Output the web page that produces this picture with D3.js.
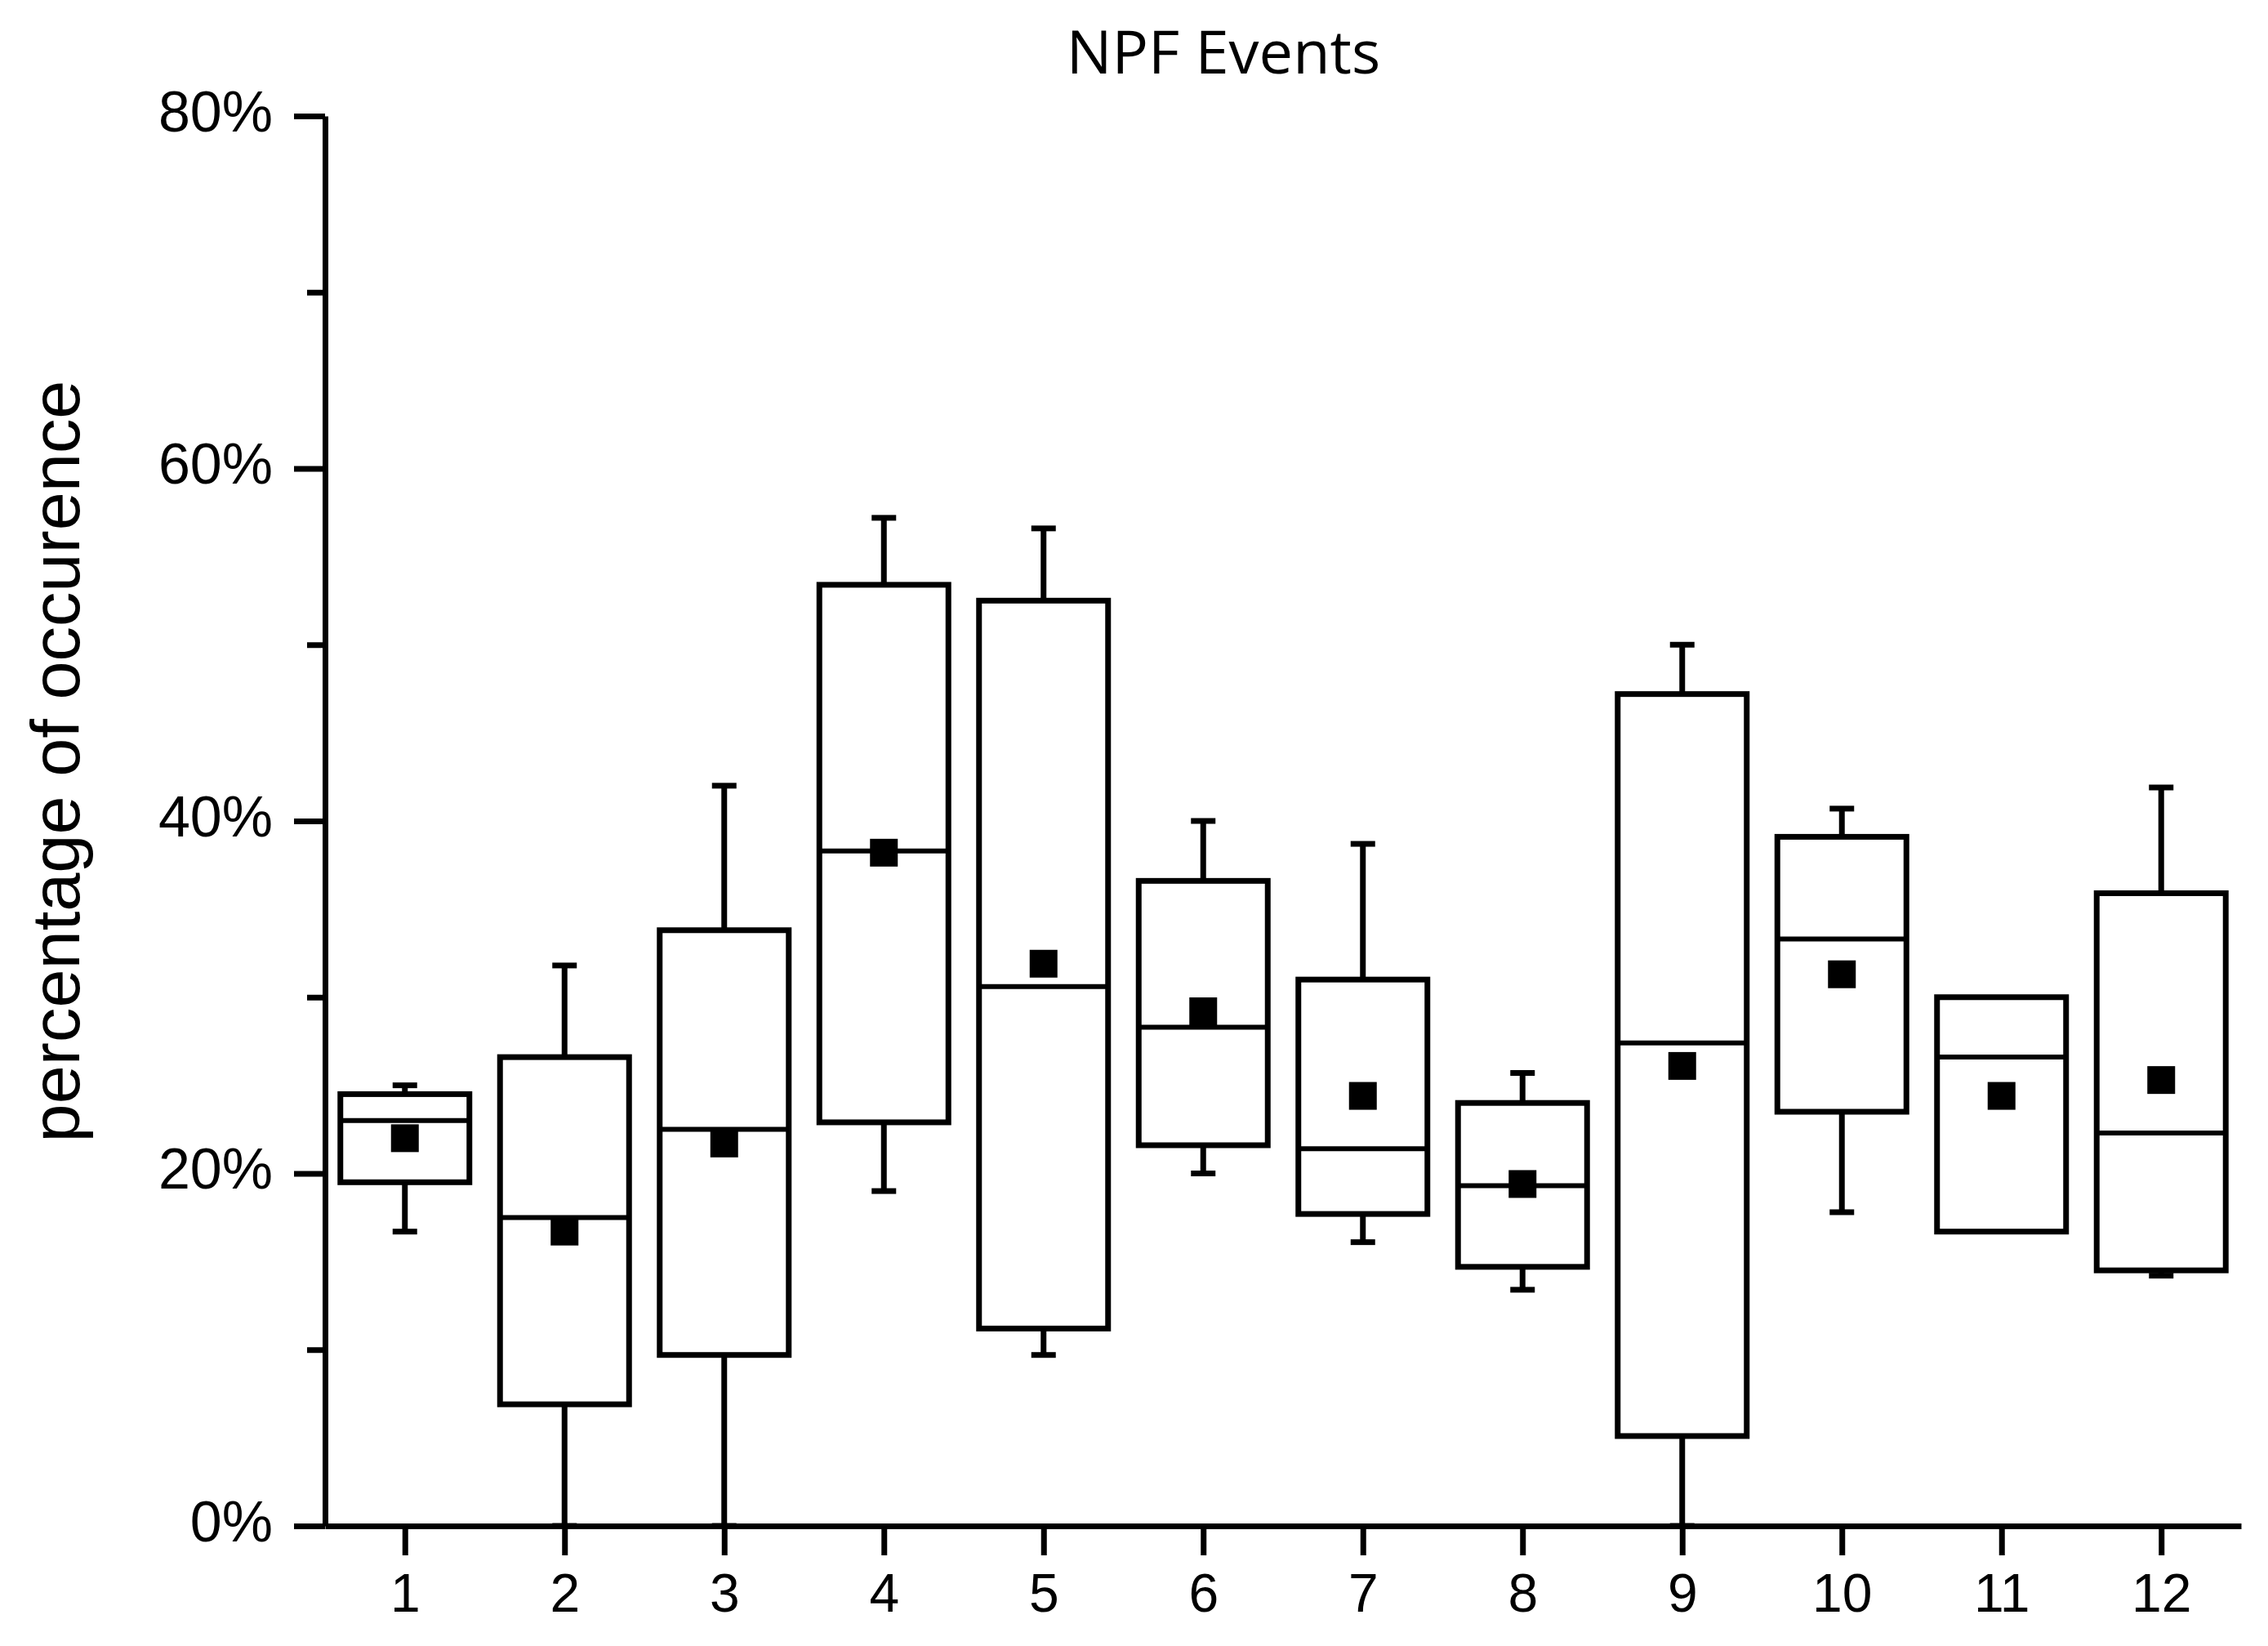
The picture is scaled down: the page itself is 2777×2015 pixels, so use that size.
<!DOCTYPE html>
<html>
<head>
<meta charset="utf-8">
<script src="https://cdn.jsdelivr.net/npm/d3@7"></script>
<style>
  html, body { margin: 0; padding: 0; background: #ffffff; }
  svg { display: block; }
</style>
</head>
<body>
<script>
// ---- Data (percent of occurrence, by month) ----
const months      = [1, 2, 3, 4, 5, 6, 7, 8, 9, 10, 11, 12];
const whiskerHigh = [25.0, 31.8, 42.0, 57.2, 56.6, 40.0, 38.7, 25.7, 50.0, 40.7, 30.0, 41.9];
const q3          = [24.5, 26.6, 33.8, 53.4, 52.5, 36.6, 31.0, 24.0, 47.2, 39.1, 30.0, 35.9];
const medians     = [23.0, 17.5, 22.5, 38.3, 30.6, 28.3, 21.4, 19.3, 27.4, 33.3, 26.6, 22.3];
const means       = [22.0, 16.7, 21.7, 38.2, 31.9, 29.2, 24.4, 19.4, 26.1, 31.3, 24.4, 25.3];
const q1          = [19.5, 6.9, 9.7, 22.9, 11.2, 21.6, 17.7, 14.7, 5.1, 23.5, 16.7, 14.5];
const whiskerLow  = [16.7, 0.0, 0.0, 19.0, 9.7, 20.0, 16.1, 13.4, 0.0, 17.8, 16.7, 14.2];
const yMajorTicks = [0, 20, 40, 60, 80];
const yMinorTicks = [10, 30, 50, 70];
const titleText = "NPF Events";
const yLabelText = "percentage of occurence";

const W = 2777, H = 2015;
const svg = d3.select("body").append("svg").attr("width", W).attr("height", H)
  .style("background", "#fff");

const x = d3.scaleLinear().domain([0.5, 12.5]).range([398, 2744]);
const y = d3.scaleLinear().domain([0, 80]).range([1868, 142]);

const boxes = months.map((m, i) => ({
  m, hi: whiskerHigh[i], q3: q3[i], med: medians[i], mean: means[i], q1: q1[i], lo: whiskerLow[i]
}));

const boxW = 158, capW = 30, sq = 34, lw = 7;

const g = svg.append("g");

// whiskers
g.selectAll(".wh").data(boxes).join("line")
  .attr("x1", d => x(d.m)).attr("x2", d => x(d.m))
  .attr("y1", d => y(d.q3)).attr("y2", d => y(d.hi))
  .attr("stroke", "#000").attr("stroke-width", lw);
g.selectAll(".wl").data(boxes).join("line")
  .attr("x1", d => x(d.m)).attr("x2", d => x(d.m))
  .attr("y1", d => y(d.q1)).attr("y2", d => y(d.lo))
  .attr("stroke", "#000").attr("stroke-width", lw);
// caps
g.selectAll(".ch").data(boxes.filter(d => d.hi > d.q3)).join("line")
  .attr("x1", d => x(d.m) - capW / 2).attr("x2", d => x(d.m) + capW / 2)
  .attr("y1", d => y(d.hi)).attr("y2", d => y(d.hi))
  .attr("stroke", "#000").attr("stroke-width", lw);
g.selectAll(".cl").data(boxes.filter(d => d.lo < d.q1)).join("line")
  .attr("x1", d => x(d.m) - capW / 2).attr("x2", d => x(d.m) + capW / 2)
  .attr("y1", d => y(d.lo)).attr("y2", d => y(d.lo))
  .attr("stroke", "#000").attr("stroke-width", lw);
// boxes
g.selectAll(".box").data(boxes).join("rect")
  .attr("x", d => x(d.m) - boxW / 2).attr("width", boxW)
  .attr("y", d => y(d.q3)).attr("height", d => y(d.q1) - y(d.q3))
  .attr("fill", "#fff").attr("stroke", "#000").attr("stroke-width", lw);
// medians
g.selectAll(".med").data(boxes).join("line")
  .attr("x1", d => x(d.m) - boxW / 2).attr("x2", d => x(d.m) + boxW / 2)
  .attr("y1", d => y(d.med)).attr("y2", d => y(d.med))
  .attr("stroke", "#000").attr("stroke-width", 6);
// means
g.selectAll(".mean").data(boxes).join("rect")
  .attr("x", d => x(d.m) - sq / 2).attr("y", d => y(d.mean) - sq / 2)
  .attr("width", sq).attr("height", sq).attr("fill", "#000");

// axes
const fontAxis = "'Liberation Sans', Arial, sans-serif";
const yAxis = svg.append("g").attr("transform", `translate(${x.range()[0]},0)`)
  .call(d3.axisLeft(y).tickValues(yMajorTicks).tickFormat(d => d + "%")
    .tickSize(38).tickSizeOuter(0).tickPadding(26));
svg.append("g").attr("transform", `translate(${x.range()[0]},0)`)
  .call(d3.axisLeft(y).tickValues(yMinorTicks).tickFormat("")
    .tickSize(22).tickSizeOuter(0))
  .select(".domain").remove();
const xAxis = svg.append("g").attr("transform", `translate(0,${y(0)})`)
  .call(d3.axisBottom(x).tickValues(months).tickFormat(d3.format("d"))
    .tickSize(36).tickSizeOuter(0).tickPadding(22));

svg.selectAll(".domain, .tick line").attr("stroke", "#000").attr("stroke-width", 7);
yAxis.selectAll(".tick text").attr("font-family", fontAxis).attr("font-size", 70)
  .attr("fill", "#000").attr("dy", "0.26em");
xAxis.selectAll(".tick text").attr("font-family", fontAxis).attr("font-size", 66)
  .attr("fill", "#000");

// title
svg.append("text").attr("x", 1498).attr("y", 90).attr("text-anchor", "middle")
  .attr("font-family", "'Open Sans', sans-serif").attr("font-size", 74)
  .attr("fill", "#000").text(titleText);

// y label
svg.append("text").attr("transform", "translate(97,932) rotate(-90)")
  .attr("text-anchor", "middle").attr("font-family", fontAxis).attr("font-size", 84)
  .attr("textLength", 933).attr("lengthAdjust", "spacingAndGlyphs")
  .attr("fill", "#000").text(yLabelText);
</script>
</body>
</html>
